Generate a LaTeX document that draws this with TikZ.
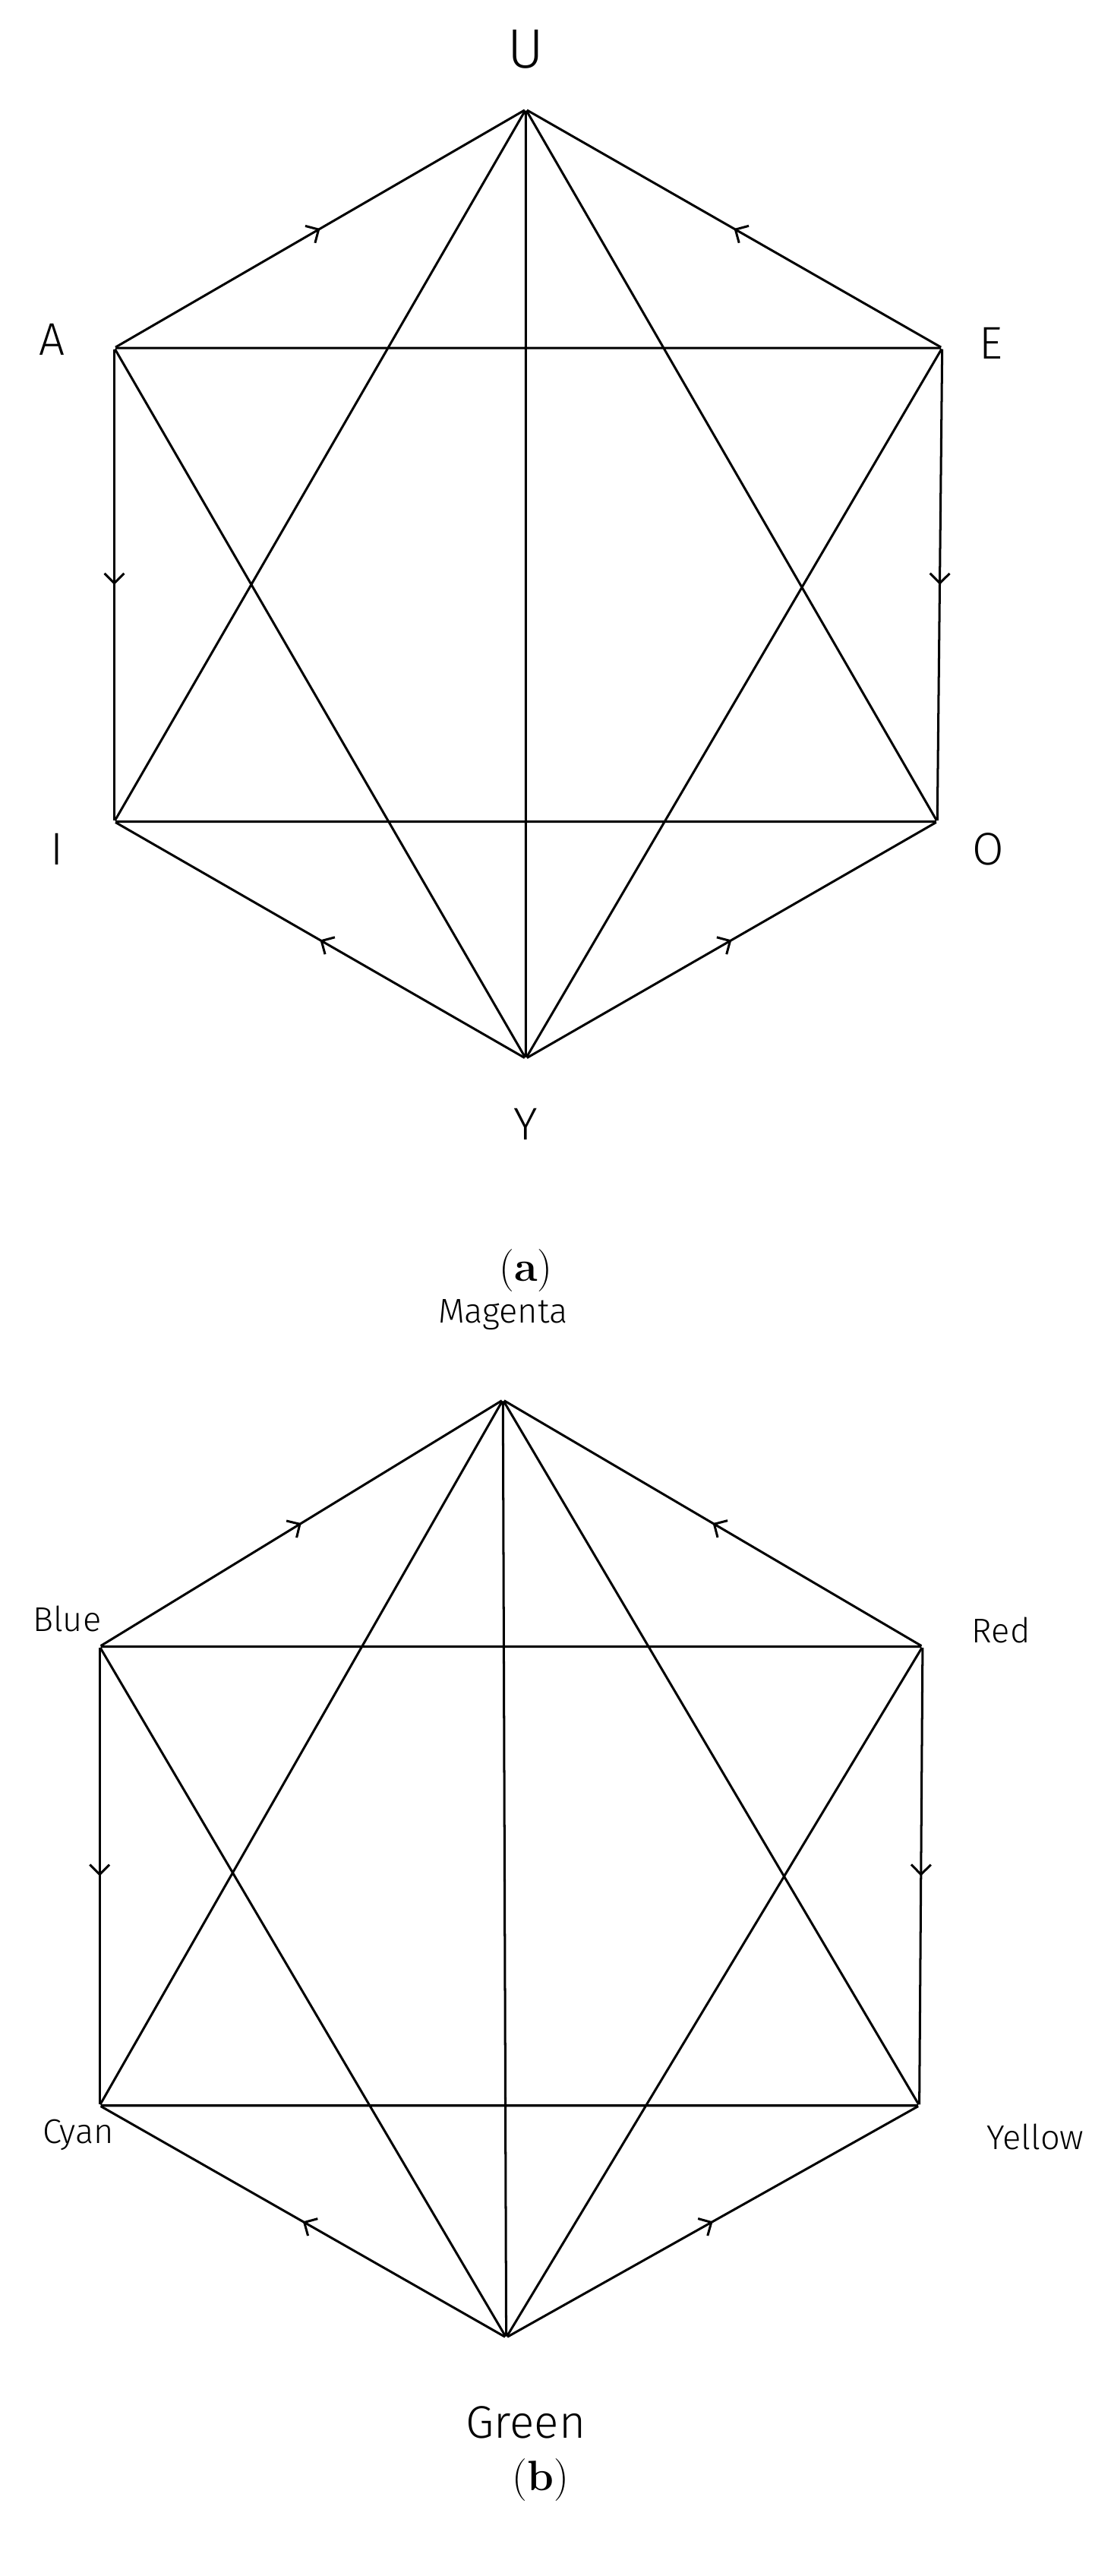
\documentclass[tikz,border=0pt]{standalone}
\usepackage{fontspec}
\setsansfont{Fira Sans Light}
\usetikzlibrary{arrows.meta,decorations.markings}
\begin{document}
\begin{tikzpicture}[x=1pt,y=-1pt,line width=1.4pt,
  v/.style={inner sep=0pt,minimum size=0pt},
  lab/.style={font=\sffamily\fontsize{28}{32}\selectfont},
  labs/.style={font=\sffamily\fontsize{21}{25}\selectfont},
  captxt/.style={font=\fontsize{26}{30}\selectfont},
  mid/.style={postaction={decorate},decoration={markings,mark=at position 0.5 with {\arrow{Straight Barb[length=6pt,width=12pt]}}}}]
\useasboundingbox (0,0) rectangle (680,1577);
% (a)
\node[v] (U) at (322,67) {};
\node[v] (A) at (70,213) {};
\node[v] (E) at (577,213) {};
\node[v] (I) at (70,503) {};
\node[v] (O) at (574,503) {};
\node[v] (Y) at (322,648) {};
\node[font=\sffamily\fontsize{34}{38}\selectfont] (lU) at (322,30) {U};
\node[lab] (lA) at (32,208) {A};
\node[lab] (lE) at (607,210) {E};
\node[lab] (lI) at (35,520) {I};
\node[lab] (lO) at (605,520) {O};
\node[lab] (lY) at (322,688) {Y};
\node[captxt] (ca) at (322,778) {(\textbf{a})};
\draw[mid] (A) -- (U);
\draw[mid] (E) -- (U);
\draw[mid] (A) -- (I);
\draw[mid] (E) -- (O);
\draw[mid] (Y) -- (I);
\draw[mid] (Y) -- (O);
\draw (A) -- (E) (I) -- (O) (U) -- (Y) (U) -- (I) (U) -- (O) (A) -- (Y) (E) -- (Y);
% (b)
\node[v] (M) at (308,857) {};
\node[v] (B) at (61,1008) {};
\node[v] (R) at (565,1008) {};
\node[v] (C) at (61,1289) {};
\node[v] (Ye) at (563,1289) {};
\node[v] (G) at (310,1431) {};
\node[labs] (lM) at (308,805) {Magenta};
\node[labs] (lB) at (41,991) {Blue};
\node[labs] (lR) at (613,998) {Red};
\node[labs] (lC) at (48,1307) {Cyan};
\node[labs] (lYe) at (634,1308) {Yellow};
\node[lab] (lG) at (322,1483) {Green};
\node[captxt] (cb) at (331,1518) {(\textbf{b})};
\draw[mid] (B) -- (M);
\draw[mid] (R) -- (M);
\draw[mid] (B) -- (C);
\draw[mid] (R) -- (Ye);
\draw[mid] (G) -- (C);
\draw[mid] (G) -- (Ye);
\draw (B) -- (R) (C) -- (Ye) (M) -- (G) (M) -- (C) (M) -- (Ye) (B) -- (G) (R) -- (G);
\end{tikzpicture}
\end{document}
